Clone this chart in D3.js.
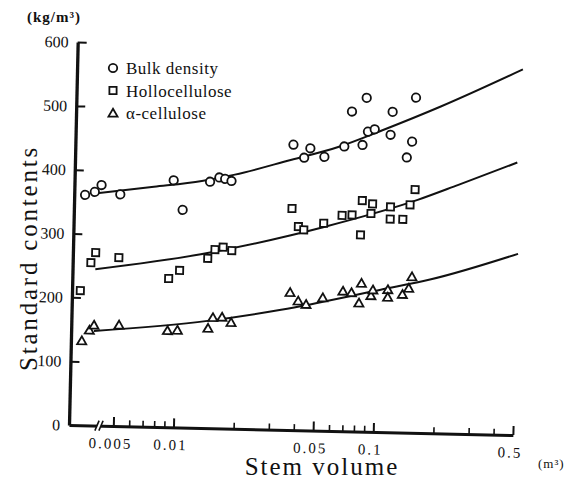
<!DOCTYPE html>
<html>
<head>
<meta charset="utf-8">
<script src="https://cdn.jsdelivr.net/npm/d3@7"></script>
<style>
  body { margin: 0; background: #fff; }
  svg text { font-family: "Liberation Serif", "DejaVu Serif", serif; fill: #111; }
</style>
</head>
<body>
<div id="chart"></div>
<script>
// ---- DATA (stem volume m3, content kg/m3) ---- //
var bulkDensity = [[0.0034,361],[0.0038,366],[0.0041,377],[0.0051,363],[0.0094,387],[0.0105,341],
  [0.0143,386],[0.0159,393],[0.017,391],[0.0183,388],[0.037,447],[0.042,427],[0.045,442],[0.053,429],
  [0.0665,446],[0.072,501],[0.082,449],[0.085,523],[0.087,470],[0.094,474],[0.113,466],[0.115,502],
  [0.137,431],[0.145,456],[0.15,525]];

var hollocellulose = [[0.0033,211],[0.0037,255],[0.0039,271],[0.0051,264],[0.0091,233],[0.0103,246],
  [0.0142,266],[0.0154,280],[0.0169,284],[0.0187,279],[0.037,347],[0.040,319],[0.0426,314],[0.0535,325],
  [0.066,338],[0.074,339],[0.082,308],[0.083,362],[0.092,342],[0.0935,357],[0.115,353],[0.115,334],
  [0.133,334],[0.144,357],[0.152,381]];

var alphaCellulose = [[0.0034,131],[0.0037,148],[0.0039,156],[0.0052,157],[0.0091,150],[0.0102,151],
  [0.0145,155],[0.0153,172],[0.017,173],[0.0189,165],[0.037,214],[0.0407,201],[0.0446,196],[0.054,207],
  [0.068,218],[0.075,216],[0.084,231],[0.082,200],[0.094,212],[0.096,221],[0.114,222],[0.114,210],
  [0.135,215],[0.145,225],[0.15,243]];

// fitted curves
var bulkFit = [[0.0039,364],[0.0075,376],[0.013,387],[0.019,398],[0.036,423],[0.062,445],[0.105,474],[0.2,512],[0.51,573]];
var holloFit = [[0.0039,245],[0.0131,272],[0.0368,305],[0.052,318],[0.157,365],[0.25,390],[0.49,427]];
var alphaFit = [[0.0039,148],[0.0144,168],[0.0335,188],[0.105,223],[0.187,241],[0.506,284]];

var yTicks = [0, 100, 200, 300, 400, 500, 600];
var xMajorTicks = [0.005, 0.01, 0.05, 0.1, 0.5];
var xTickLabels = ["0.005", "0.01", "0.05", "0.1", "0.5"];
var xMinorTicks = [0.006, 0.007, 0.008, 0.009, 0.02, 0.03, 0.04, 0.06, 0.07, 0.08, 0.09, 0.2, 0.3, 0.4];

var legendNames = ["Bulk density", "Hollocellulose", "\u03b1-cellulose"];

// ---- SETUP ---- //
var width = 579, height = 486;
var plotW = 444, plotH = 383;

var svg = d3.select("#chart").append("svg")
    .attr("width", width)
    .attr("height", height);

// the scanned figure is turned a little clockwise
var g = svg.append("g").attr("transform", "translate(69,425) rotate(1.3)");

var x = d3.scaleLog().domain([0.003, 0.5]).range([0, plotW]);
var y = d3.scaleLinear().domain([0, 600]).range([0, -plotH]);

// ---- FITTED LINES ---- //
var line = d3.line()
    .x(function(d) { return x(d[0]); })
    .y(function(d) { return y(d[1]); })
    .curve(d3.curveMonotoneX);

[bulkFit, holloFit, alphaFit].forEach(function(f) {
  g.append("path")
      .datum(f)
      .attr("d", line)
      .attr("fill", "none")
      .attr("stroke", "#111")
      .attr("stroke-width", 2);
});

// ---- AXES ---- //
var yAxis = d3.axisLeft(y).tickValues(yTicks).tickSize(-9).tickSizeOuter(0).tickPadding(9);
var yAxisGroup = g.append("g").call(yAxis);
yAxisGroup.select(".domain").attr("stroke-width", 3.3).attr("stroke", "#111");
yAxisGroup.selectAll(".tick line").attr("stroke-width", 2).attr("stroke", "#111");
yAxisGroup.selectAll(".tick text").attr("font-size", 16).attr("font-family", "Liberation Serif");
yAxisGroup.selectAll(".tick").filter(function(d) { return d === 0; }).select("line").remove();

var xMinor = d3.axisBottom(x).tickValues(xMinorTicks).tickSize(-6).tickSizeOuter(0).tickFormat("");
var xMinorGroup = g.append("g").call(xMinor);
xMinorGroup.select(".domain").remove();
xMinorGroup.selectAll(".tick line").attr("stroke-width", 1.6).attr("stroke", "#111");

var xAxis = d3.axisBottom(x).tickValues(xMajorTicks).tickSize(-9).tickSizeOuter(0).tickPadding(12)
    .tickFormat(function(d, i) { return xTickLabels[i]; });
var xAxisGroup = g.append("g").call(xAxis);
xAxisGroup.select(".domain").attr("stroke-width", 3).attr("stroke", "#111");
xAxisGroup.selectAll(".tick line").attr("stroke-width", 2).attr("stroke", "#111");
xAxisGroup.selectAll(".tick text")
    .attr("font-size", 15)
    .attr("font-family", "Liberation Serif")
    .attr("letter-spacing", 2)
    .attr("dx", -3);

// axis break mark
g.append("rect").attr("x", 28).attr("y", -3).attr("width", 4).attr("height", 6).attr("fill", "#fff");
g.append("line").attr("x1", 26).attr("y1", 5).attr("x2", 30).attr("y2", -5).attr("stroke", "#111").attr("stroke-width", 1.6);
g.append("line").attr("x1", 30).attr("y1", 5).attr("x2", 34).attr("y2", -5).attr("stroke", "#111").attr("stroke-width", 1.6);

// ---- POINTS ---- //
var symCircle = d3.symbol().type(d3.symbolCircle).size(56);
var symSquare = d3.symbol().type(d3.symbolSquare).size(52);
var symTriangle = d3.symbol().type(d3.symbolTriangle).size(36);

function drawPoints(data, sym) {
  g.append("g").selectAll("path")
      .data(data)
      .enter().append("path")
      .attr("d", sym)
      .attr("transform", function(d) { return "translate(" + x(d[0]) + "," + y(d[1]) + ")"; })
      .attr("fill", "#fff")
      .attr("stroke", "#111")
      .attr("stroke-width", 1.8);
}
drawPoints(bulkDensity, symCircle);
drawPoints(hollocellulose, symSquare);
drawPoints(alphaCellulose, symTriangle);

// ---- LEGEND ---- //
var legendSyms = [symCircle, symSquare, symTriangle];
var legend = svg.append("g");
legendNames.forEach(function(name, i) {
  var ly = 68 + i * 22.5;
  legend.append("path")
      .attr("d", legendSyms[i])
      .attr("transform", "translate(113," + (i === 2 ? ly + 1 : ly) + ")")
      .attr("fill", "#fff")
      .attr("stroke", "#111")
      .attr("stroke-width", 1.8);
  legend.append("text")
      .attr("x", 126)
      .attr("y", ly + 6)
      .attr("font-size", 17)
      .attr("letter-spacing", 0.5)
      .text(name);
});

// ---- TITLES ---- //
svg.append("text")
    .attr("x", 27).attr("y", 22)
    .attr("font-size", 15)
    .attr("font-weight", "bold")
    .attr("letter-spacing", 1)
    .text("(kg/m\u00b3)");

svg.append("text")
    .attr("transform", "translate(37,258) rotate(-90)")
    .attr("text-anchor", "middle")
    .attr("font-size", 25)
    .attr("letter-spacing", 2.8)
    .text("Standard contents");

svg.append("text")
    .attr("x", 322).attr("y", 475)
    .attr("text-anchor", "middle")
    .attr("font-size", 25)
    .attr("letter-spacing", 2)
    .text("Stem volume");

svg.append("text")
    .attr("x", 538).attr("y", 468)
    .attr("font-size", 13)
    .attr("letter-spacing", 1)
    .text("(m\u00b3)");
</script>
</body>
</html>
